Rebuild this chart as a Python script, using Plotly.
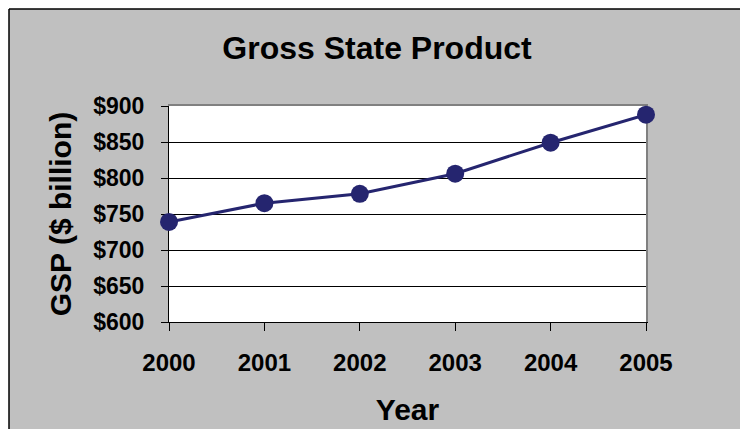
import plotly.graph_objects as go

years = [2000, 2001, 2002, 2003, 2004, 2005]
gsp = [739, 765, 778, 806, 849, 888]
y_ticks = [600, 650, 700, 750, 800, 850, 900]

W, H = 740, 429
L, R, T, B = 169, 94, 106, 107
pw, ph = W - L - R, H - T - B

def px_x(p):
    return (p - L) / pw

def px_y(p):
    return (H - B - p) / ph

navy = "#25256F"
font = "Liberation Sans, Arial, sans-serif"

fig = go.Figure()
fig.add_trace(go.Scatter(
    x=years, y=gsp, mode="lines+markers",
    line=dict(color=navy, width=3),
    marker=dict(color=navy, size=18),
    cliponaxis=False, showlegend=False,
))
# invisible trace for gray top/right frame axes
fig.add_trace(go.Scatter(x=[years[0]], y=[y_ticks[0]], xaxis="x2", yaxis="y2",
                         mode="markers", marker=dict(opacity=0), showlegend=False,
                         hoverinfo="skip"))

bx = px_x(9)
by = px_y(9)
shapes = [
    dict(type="rect", xref="paper", yref="paper", x0=-1, x1=3, y0=by, y1=3,
         fillcolor="white", line=dict(width=0), layer="above"),
    dict(type="rect", xref="paper", yref="paper", x0=-1, x1=bx, y0=-2, y1=3,
         fillcolor="white", line=dict(width=0), layer="above"),
    dict(type="line", xref="paper", yref="paper", x0=bx, x1=3, y0=by, y1=by,
         line=dict(color="black", width=1.5), layer="above"),
    dict(type="line", xref="paper", yref="paper", x0=bx, x1=bx, y0=-2, y1=by,
         line=dict(color="black", width=1.5), layer="above"),
]

fig.update_layout(
    width=W, height=H,
    margin=dict(l=L, r=R, t=T, b=B, autoexpand=False),
    paper_bgcolor="#C0C0C0",
    plot_bgcolor="white",
    font=dict(family=font, color="black"),
    title=dict(text="<b>Gross State Product</b>", x=377 / W, xref="container",
               xanchor="center", y=1 - 48 / H, yref="container", yanchor="middle",
               font=dict(size=32, family=font, color="black")),
    xaxis=dict(range=[years[0], years[-1]], tickmode="array", tickvals=years,
               ticktext=[f"<b>{y}</b>" for y in years],
               showgrid=False, zeroline=False, showline=True, linecolor="black",
               linewidth=1, ticks="outside", ticklen=8, tickcolor="black",
               tickfont=dict(size=24, family=font), ticklabelstandoff=11,
               title=dict(text="<b>Year</b>", font=dict(size=30, family=font),
                          standoff=24),
               automargin=False, layer="below traces"),
    yaxis=dict(range=[y_ticks[0], y_ticks[-1]], tickmode="array", tickvals=y_ticks,
               ticktext=[f"<b>${v}</b>" for v in y_ticks],
               showgrid=True, gridcolor="black", gridwidth=1, zeroline=False,
               showline=True, linecolor="black", linewidth=1,
               ticks="outside", ticklen=7, tickcolor="black",
               tickfont=dict(size=23, family=font), ticklabelstandoff=12,
               title=dict(text="<b>GSP ($ billion)</b>", font=dict(size=30, family=font),
                          standoff=12),
               automargin=False, layer="below traces"),
    xaxis2=dict(overlaying="x", side="top", range=[years[0], years[-1]],
                showgrid=False, zeroline=False, showline=True, linecolor="#808080",
                linewidth=1.5, showticklabels=False, ticks="", automargin=False,
                layer="below traces"),
    yaxis2=dict(overlaying="y", side="right", range=[y_ticks[0], y_ticks[-1]],
                showgrid=False, zeroline=False, showline=True, linecolor="#808080",
                linewidth=1.5, showticklabels=False, ticks="", automargin=False,
                layer="below traces"),
    shapes=shapes,
)

fig.write_html("out.html")
